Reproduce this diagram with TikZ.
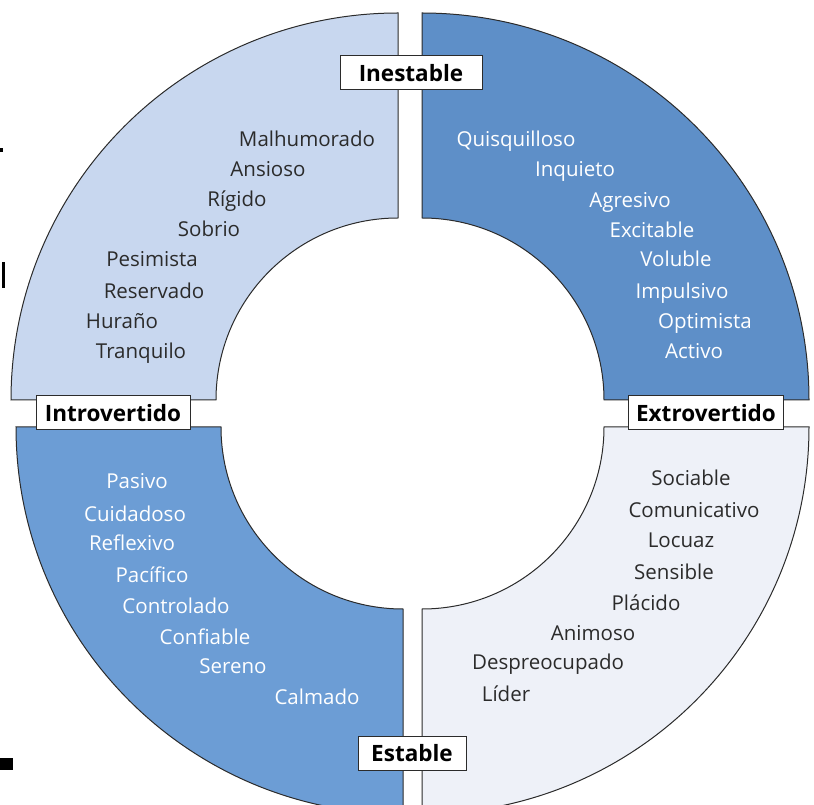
\documentclass[tikz,border=0pt]{standalone}
\usepackage{fontspec}
\setmainfont{Open Sans}
\usepackage{xcolor}
\usetikzlibrary{positioning}

\definecolor{tlblue}{HTML}{C8D7EF}
\definecolor{trblue}{HTML}{5E8FC8}
\definecolor{blblue}{HTML}{6C9DD5}
\definecolor{brgray}{HTML}{EEF1F8}
\definecolor{inkgray}{HTML}{2B2B2B}

\begin{document}
\begin{tikzpicture}[
  x=1pt, y=1pt,
  ring/.style={draw=inkgray, line width=1pt},
  word/.style={anchor=base, inner sep=0pt, font=\fontsize{20.5}{24}\selectfont},
  darkword/.style={word, text=inkgray},
  lightword/.style={word, text=white},
  tag/.style={draw=inkgray, line width=1pt, fill=white, inner sep=0pt,
              minimum height=34pt, font=\bfseries\fontsize{22.5}{26}\selectfont}
]
\useasboundingbox (0,0) rectangle (814,804);
\clip (0,0) rectangle (814,804);

% --- quadrant centres ---
\coordinate (tlc) at (398,404);
\coordinate (trc) at (422,404);
\coordinate (blc) at (403,377);
\coordinate (brc) at (422,377);

% --- the four quadrants ---
\filldraw[ring, fill=tlblue] (tlc) ++(0,182) -- ++(0,205)
  arc[start angle=90, end angle=180, radius=387] -- ++(205,0)
  arc[start angle=180, end angle=90, radius=182] -- cycle;
\filldraw[ring, fill=trblue] (trc) ++(0,182) -- ++(0,205)
  arc[start angle=90, end angle=0, radius=387] -- ++(-205,0)
  arc[start angle=0, end angle=90, radius=182] -- cycle;
\filldraw[ring, fill=blblue] (blc) ++(0,-182) -- ++(0,-205)
  arc[start angle=270, end angle=180, radius=387] -- ++(205,0)
  arc[start angle=180, end angle=270, radius=182] -- cycle;
\filldraw[ring, fill=brgray] (brc) ++(0,-182) -- ++(0,-205)
  arc[start angle=270, end angle=360, radius=387] -- ++(-205,0)
  arc[start angle=0, end angle=-90, radius=182] -- cycle;

% --- inestable / introvertido ---
\node[darkword] (malhumorado) at (307,657) {Malhumorado};
\node[darkword] (ansioso)     at (268,627) {Ansioso};
\node[darkword] (rigido)      at (237,597) {Rígido};
\node[darkword] (sobrio)      at (209,567) {Sobrio};
\node[darkword] (pesimista)   at (152,537) {Pesimista};
\node[darkword] (reservado)   at (154,505) {Reservado};
\node[darkword] (hurano)      at (122,475) {Huraño};
\node[darkword] (tranquilo)   at (141,445) {Tranquilo};

% --- inestable / extrovertido ---
\node[lightword] (quisquilloso) at (516,657) {Quisquilloso};
\node[lightword] (inquieto)     at (575,627) {Inquieto};
\node[lightword] (agresivo)     at (630,596) {Agresivo};
\node[lightword] (excitable)    at (652,566) {Excitable};
\node[lightword] (voluble)      at (676,537) {Voluble};
\node[lightword] (impulsivo)    at (682,505) {Impulsivo};
\node[lightword] (optimista)    at (705,475) {Optimista};
\node[lightword] (activo)       at (694,445) {Activo};

% --- estable / introvertido ---
\node[lightword] (pasivo)     at (137,315) {Pasivo};
\node[lightword] (cuidadoso)  at (135,282) {Cuidadoso};
\node[lightword] (reflexivo)  at (132,253) {Reflexivo};
\node[lightword] (pacifico)   at (152,222) {Pacífico};
\node[lightword] (controlado) at (176,191) {Controlado};
\node[lightword] (confiable)  at (205,160) {Confiable};
\node[lightword] (sereno)     at (233,131) {Sereno};
\node[lightword] (calmado)    at (317,100) {Calmado};

% --- estable / extrovertido ---
\node[darkword] (sociable)      at (691,318) {Sociable};
\node[darkword] (comunicativo)  at (694,286) {Comunicativo};
\node[darkword] (locuaz)        at (681,256) {Locuaz};
\node[darkword] (sensible)      at (674,225) {Sensible};
\node[darkword] (placido)       at (646,194) {Plácido};
\node[darkword] (animoso)       at (593,164) {Animoso};
\node[darkword] (despreocupado) at (548,135) {Despreocupado};
\node[darkword] (lider)         at (506,103) {Líder};

% --- axis labels ---
\node[tag, minimum width=142pt] (inestable)    at (411,731) {Inestable};
\node[tag, minimum width=154pt] (introvertido) at (113,391) {Introvertido};
\node[tag, minimum width=155pt] (extrovertido) at (706,391) {Extrovertido};
\node[tag, minimum width=108pt] (estable)      at (412,51)  {Estable};

% --- stray marks at the left edge ---
\fill[black] (0,652) rectangle (3,656);
\fill[black] (2,516) rectangle (5,542);
\fill[black] (0,34) rectangle (13,46);

\end{tikzpicture}
\end{document}
